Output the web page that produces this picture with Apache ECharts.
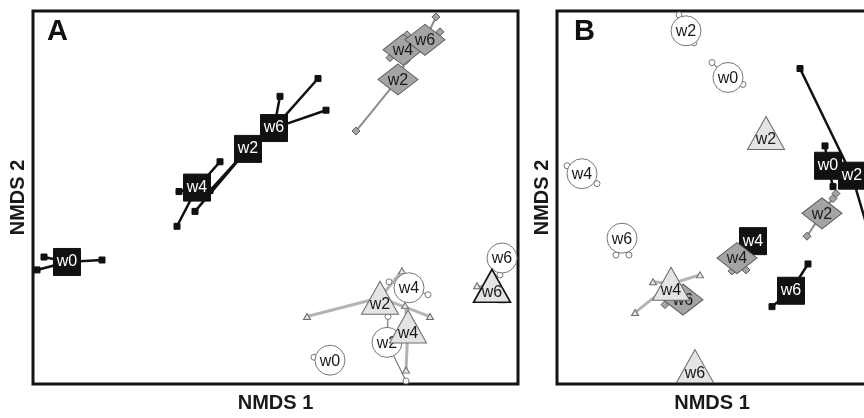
<!DOCTYPE html>
<html>
<head>
<meta charset="utf-8">
<script src="https://cdn.jsdelivr.net/npm/echarts@6/dist/echarts.min.js"></script>
<style>
  html, body { margin: 0; padding: 0; background: #fff; overflow: hidden; }
  /* panel B's right frame sits just past the edge of the page */
  #chart { width: 900px; height: 418px; }
</style>
</head>
<body>
<div id="chart"></div>
<script>
// NMDS ordination, two panels. Each entry: [week, NMDS 1, NMDS 2]
// Centroids are the labelled markers, replicates are the spider-line ends.

// Panel A
const aSquare = [['w0', -2.08, -0.65], ['w2', -0.27, 0.49], ['w4', -0.78, 0.10], ['w6', -0.01, 0.70]];
const aSquareReps = [
  ['w0', -2.31, -0.60], ['w0', -2.38, -0.73], ['w0', -1.73, -0.63],
  ['w2', -0.80, -0.14], ['w2', -0.65, 0.07],
  ['w4', -0.96, 0.06], ['w4', -0.55, 0.36], ['w4', -0.98, -0.29],
  ['w6', 0.05, 1.02], ['w6', 0.43, 1.20], ['w6', 0.51, 0.88]
];
const aDiamond = [['w2', 1.23, 1.19], ['w4', 1.28, 1.49], ['w6', 1.50, 1.59]];
const aDiamondReps = [
  ['w2', 0.81, 0.67], ['w2', 1.31, 1.38],
  ['w4', 1.15, 1.41], ['w4', 1.32, 1.64],
  ['w6', 1.61, 1.82], ['w6', 1.65, 1.67]
];
const aTriangle = [['w2', 1.05, -1.01], ['w4', 1.33, -1.30], ['w6', 2.17, -0.89]];
const aTriangleReps = [
  ['w2', 0.32, -1.20], ['w2', 1.55, -1.20], ['w2', 1.27, -0.74],
  ['w4', 1.31, -1.74], ['w4', 1.30, -1.09],
  ['w6', 2.02, -0.89], ['w6', 2.27, -1.03]
];
const aCircle = [['w0', 0.55, -1.64], ['w2', 1.12, -1.46], ['w4', 1.34, -0.91], ['w6', 2.27, -0.61]];
const aCircleReps = [
  ['w0', 0.39, -1.61],
  ['w2', 1.13, -1.20], ['w2', 1.31, -1.85],
  ['w4', 1.53, -0.98], ['w4', 1.14, -0.85],
  ['w6', 2.25, -0.78]
];

// Panel B
const bSquare = [['w0', 0.29, 0.32], ['w2', 0.53, 0.22], ['w4', -0.46, -0.44], ['w6', -0.08, -0.94]];
const bSquareReps = [
  ['w0', 0.26, 0.52], ['w0', 0.34, 0.11],
  ['w2', 0.01, 1.30], ['w2', 0.80, -0.70],
  ['w6', -0.27, -1.10], ['w6', 0.09, -0.67]
];
const bDiamond = [['w2', 0.23, -0.16], ['w4', -0.62, -0.61], ['w6', -1.16, -1.03]];
const bDiamondReps = [
  ['w2', 0.34, -0.01], ['w2', 0.37, 0.04], ['w2', 0.08, -0.39],
  ['w4', -0.67, -0.74], ['w4', -0.53, -0.73],
  ['w6', -1.34, -1.08]
];
const bTriangle = [['w2', -0.33, 0.65], ['w4', -1.28, -0.87], ['w6', -1.04, -1.70]];
const bTriangleReps = [
  ['w4', -1.64, -1.16], ['w4', -0.99, -0.78], ['w4', -1.46, -0.85]
];
const bCircle = [['w0', -0.71, 1.21], ['w2', -1.13, 1.68], ['w4', -2.17, 0.24], ['w6', -1.77, -0.41]];
const bCircleReps = [
  ['w0', -0.87, 1.36], ['w0', -0.56, 1.14],
  ['w2', -1.20, 1.84], ['w2', -1.05, 1.56],
  ['w4', -2.32, 0.32], ['w4', -2.02, 0.14],
  ['w6', -1.83, -0.58], ['w6', -1.70, -0.58]
];

const FONT = 'Liberation Sans, Arial, sans-serif';

// Marker styles per treatment
const styles = {
  square: {
    symbol: 'rect', size: 27, repSize: 6,
    fill: '#111111', border: '#111111', borderWidth: 1,
    text: '#ffffff', offset: [0, 0],
    line: { color: '#111111', width: 2.5 }
  },
  diamond: {
    symbol: 'diamond', size: [40, 31], repSize: [8, 8],
    fill: '#a4a4a4', border: '#5c5c5c', borderWidth: 1,
    text: '#1a1a1a', offset: [0, 1],
    line: { color: '#8c8c8c', width: 2 }
  },
  triangle: {
    symbol: 'triangle', size: [37, 33], repSize: [7, 6],
    fill: '#e4e4e4', border: '#6a6a6a', borderWidth: 1,
    text: '#1a1a1a', offset: [0, 7],
    line: { color: '#b4b4b4', width: 3 }
  },
  circle: {
    symbol: 'circle', size: 30, repSize: 6,
    fill: '#ffffff', border: '#777777', borderWidth: 1,
    text: '#1a1a1a', offset: [0, 1],
    line: { color: '#7a7a7a', width: 1.2 }
  }
};

function spider(gi, cents, reps, st) {
  const byWeek = {};
  cents.forEach(c => { byWeek[c[0]] = [c[1], c[2]]; });
  return {
    type: 'lines', coordinateSystem: 'cartesian2d',
    xAxisIndex: gi, yAxisIndex: gi, z: 1, silent: true,
    lineStyle: { color: st.line.color, width: st.line.width, opacity: 1, curveness: 0 },
    data: reps.map(r => ({ coords: [byWeek[r[0]], [r[1], r[2]]] }))
  };
}

function repMarks(gi, reps, st) {
  return {
    type: 'scatter', xAxisIndex: gi, yAxisIndex: gi, z: 2, silent: true,
    symbol: st.symbol, symbolSize: st.repSize,
    itemStyle: { color: st.fill, borderColor: st.symbol === 'rect' ? st.fill : st.border, borderWidth: 1, opacity: 1 },
    data: reps.map(r => [r[1], r[2]])
  };
}

function centroids(gi, cents, st, z, extra) {
  return {
    type: 'scatter', xAxisIndex: gi, yAxisIndex: gi, z: z, silent: true,
    symbol: st.symbol, symbolSize: st.size,
    itemStyle: { color: st.fill, borderColor: st.border, borderWidth: st.borderWidth, opacity: 1 },
    label: {
      show: true, position: 'inside', offset: st.offset,
      formatter: p => p.data.name,
      color: st.text, fontSize: 16, fontFamily: FONT
    },
    data: cents.map(c => {
      const d = { name: c[0], value: [c[1], c[2]] };
      if (extra && extra[c[0]]) d.itemStyle = extra[c[0]];
      return d;
    })
  };
}

function panel(gi, sets) {
  const out = [];
  sets.forEach(s => out.push(spider(gi, s.c, s.r, s.st)));
  sets.forEach(s => out.push(repMarks(gi, s.r, s.st)));
  sets.forEach((s, i) => out.push(centroids(gi, s.c, s.st, 3 + i, s.extra)));
  return out;
}

const seriesA = panel(0, [
  { c: aSquare, r: aSquareReps, st: styles.square },
  { c: aDiamond, r: aDiamondReps, st: styles.diamond },
  { c: aCircle, r: aCircleReps, st: styles.circle },
  { c: aTriangle, r: aTriangleReps, st: styles.triangle,
    extra: { w6: { borderColor: '#151515', borderWidth: 1.6 } } }
]);
const seriesB = panel(1, [
  { c: bSquare, r: bSquareReps, st: styles.square },
  { c: bDiamond, r: bDiamondReps, st: styles.diamond },
  { c: bCircle, r: bCircleReps, st: styles.circle },
  { c: bTriangle, r: bTriangleReps, st: styles.triangle }
]);

function xAxisFor(gi, min, max) {
  return {
    gridIndex: gi, type: 'value', min: min, max: max,
    axisLine: { show: false }, axisTick: { show: false },
    axisLabel: { show: false }, splitLine: { show: false },
    name: 'NMDS 1', nameLocation: 'middle', nameGap: 9,
    nameTextStyle: { fontSize: 20, fontWeight: 'bold', color: '#1a1a1a', fontFamily: FONT }
  };
}
function yAxisFor(gi) {
  return {
    gridIndex: gi, type: 'value', min: -1.88, max: 1.88,
    axisLine: { show: false }, axisTick: { show: false },
    axisLabel: { show: false }, splitLine: { show: false },
    name: 'NMDS 2', nameLocation: 'middle', nameGap: 5,
    nameTextStyle: { fontSize: 20, fontWeight: 'bold', color: '#1a1a1a', fontFamily: FONT }
  };
}

const chart = echarts.init(document.getElementById('chart'), null, { renderer: 'canvas' });
chart.setOption({
  animation: false,
  backgroundColor: '#ffffff',
  title: [
    { text: 'A', left: 47, top: 17, padding: 0,
      textStyle: { fontSize: 29, fontWeight: 'bold', color: '#111', fontFamily: FONT } },
    { text: 'B', left: 574, top: 17, padding: 0,
      textStyle: { fontSize: 29, fontWeight: 'bold', color: '#111', fontFamily: FONT } }
  ],
  grid: [
    { left: 33, top: 11, width: 485, height: 376, show: true, borderColor: '#151515', borderWidth: 3, backgroundColor: 'transparent' },
    { left: 557, top: 11, width: 310, height: 376, show: true, borderColor: '#151515', borderWidth: 3, backgroundColor: 'transparent' }
  ],
  xAxis: [xAxisFor(0, -2.42, 2.43), xAxisFor(1, -2.42, 0.68)],
  yAxis: [yAxisFor(0), yAxisFor(1)],
  series: seriesA.concat(seriesB)
});
</script>
</body>
</html>
